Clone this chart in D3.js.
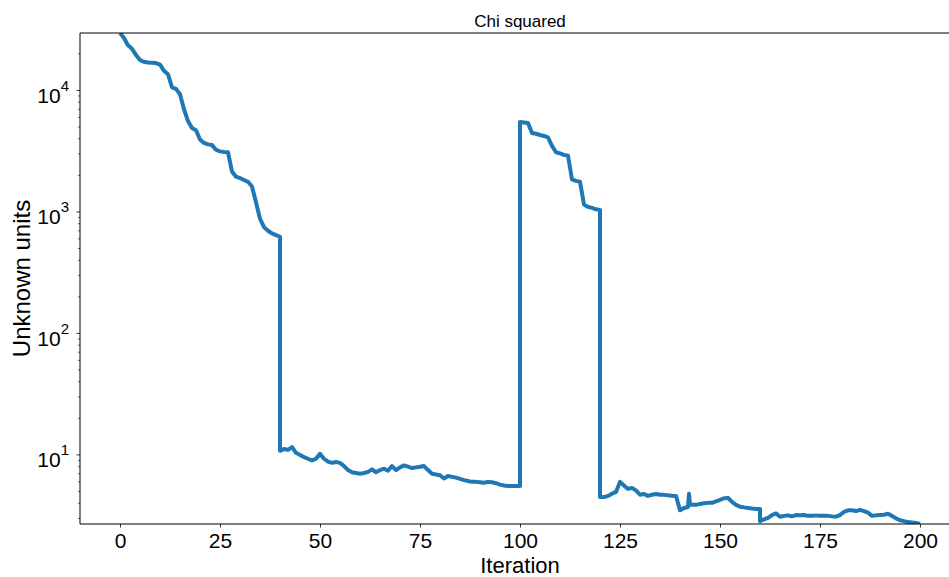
<!DOCTYPE html>
<html>
<head>
<meta charset="utf-8">
<script src="https://cdn.jsdelivr.net/npm/d3@7"></script>
<style>
  html, body { margin: 0; padding: 0; background: #fff; }
  svg { display: block; font-family: "Liberation Sans", Arial, sans-serif; }
</style>
</head>
<body>
<svg id="chart"></svg>
<script>
// Chi squared per iteration, log y axis
// data: [iteration, chi2] pairs, one array per phase

const descentA = [
  [0, 29700], [1, 27000], [2, 23500], [3, 22000], [4, 19600], [5, 17800],
  [6, 17200], [7, 17000], [8, 16900], [9, 16800], [10, 16300], [11, 14500],
  [12, 13600], [13, 10600], [14, 10300], [15, 9300], [16, 7000], [17, 5600],
  [18, 4900], [19, 4700], [20, 3950], [21, 3700], [22, 3600], [23, 3550],
  [24, 3250], [25, 3150], [26, 3120], [27, 3100], [28, 2150], [29, 1950],
  [30, 1900], [31, 1830], [32, 1770], [33, 1620], [34, 1200], [35, 880],
  [36, 750], [37, 700], [38, 665], [39, 645], [40, 625]
];

const plateauB = [
  [40, 10.8], [41, 11.2], [42, 11.0], [43, 11.6], [44, 10.4], [45, 10.0],
  [46, 9.6], [47, 9.3], [48, 9.0], [49, 9.3], [50, 10.2], [51, 9.3],
  [52, 8.8], [53, 8.6], [54, 8.75], [55, 8.6], [56, 8.1], [57, 7.5],
  [58, 7.2], [59, 7.1], [60, 7.0], [61, 7.1], [62, 7.25], [63, 7.6],
  [64, 7.2], [65, 7.5], [66, 7.7], [67, 7.4], [68, 8.1], [69, 7.5],
  [70, 7.9], [71, 8.2], [72, 8.0], [73, 7.8], [74, 7.9], [75, 8.0],
  [76, 8.1], [77, 7.5], [78, 7.0], [79, 6.9], [80, 6.8], [81, 6.4],
  [82, 6.7], [83, 6.6], [84, 6.5], [85, 6.35], [86, 6.2], [87, 6.1],
  [88, 6.0], [89, 6.0], [90, 5.95], [91, 5.9], [92, 6.0], [93, 5.95],
  [94, 5.85], [95, 5.7], [96, 5.6], [97, 5.56], [98, 5.56], [99, 5.56],
  [100, 5.56]
];

const descentC = [
  [100, 5500], [101, 5450], [102, 5400], [103, 4470], [104, 4400], [105, 4300],
  [106, 4220], [107, 4100], [108, 3500], [109, 3100], [110, 3030], [111, 2950],
  [112, 2900], [113, 1850], [114, 1800], [115, 1770], [116, 1150], [117, 1100],
  [118, 1080], [119, 1050], [120, 1040]
];

const plateauD = [
  [120, 4.5], [121, 4.5], [122, 4.6], [123, 4.8], [124, 4.96], [125, 6.0],
  [126, 5.6], [127, 5.25], [128, 5.35], [129, 5.1], [130, 4.7], [131, 4.77],
  [132, 4.6], [133, 4.7], [134, 4.77], [135, 4.7], [136, 4.69], [137, 4.65],
  [138, 4.62], [139, 4.6], [140, 3.5], [141, 3.66], [142, 3.73], [142.25, 4.8],
  [142.5, 3.88], [143, 3.88], [144, 3.88], [145, 3.95], [146, 4.0], [147, 4.03],
  [148, 4.03], [149, 4.15], [150, 4.26], [151, 4.4], [152, 4.43], [153, 4.1],
  [154, 3.88], [155, 3.75], [156, 3.7], [157, 3.66], [158, 3.62], [159, 3.59],
  [160, 3.59], [160, 2.85], [161, 2.95], [162, 3.03], [163, 3.2], [164, 3.3],
  [165, 3.1], [166, 3.15], [167, 3.18], [168, 3.12], [169, 3.2], [170, 3.18],
  [171, 3.2], [172, 3.15], [173, 3.15], [174, 3.18], [175, 3.15], [176, 3.15],
  [177, 3.15], [178, 3.12], [179, 3.1], [180, 3.2], [181, 3.4], [182, 3.5],
  [183, 3.5], [184, 3.45], [185, 3.53], [186, 3.45], [187, 3.35], [188, 3.15],
  [189, 3.18], [190, 3.2], [191, 3.22], [192, 3.28], [193, 3.15], [194, 3.0],
  [195, 2.9], [196, 2.85], [197, 2.8], [198, 2.78], [199, 2.75], [200, 2.7]
];

const xTicks = [0, 25, 50, 75, 100, 125, 150, 175, 200];
const yMajorExp = [1, 2, 3, 4];
const xDomain = [-10, 210];

const titleText = "Chi squared";
const xLabelText = "Iteration";
const yLabelText = "Unknown units";

function drawChart() {
    const width = 949;
    const height = 577;
    // axes box; right edge falls outside the window like the reference
    const margin = { left: 80, top: 33, right: 960, bottom: 524 };

    const svg = d3.select("#chart")
        .attr("width", width)
        .attr("height", height);

    const series = descentA.concat(plateauB, descentC, plateauD);

    const x = d3.scaleLinear()
        .domain(xDomain)
        .range([margin.left, margin.right]);

    const y = d3.scaleLog()
        .domain(d3.extent(series, d => d[1]))
        .range([margin.bottom, margin.top]);

    svg.append("clipPath")
        .attr("id", "plot-clip")
        .append("rect")
        .attr("x", margin.left)
        .attr("y", margin.top)
        .attr("width", margin.right - margin.left)
        .attr("height", margin.bottom - margin.top);

    // line
    const line = d3.line()
        .x(d => x(d[0]))
        .y(d => y(d[1]));

    svg.append("path")
        .datum(series)
        .attr("clip-path", "url(#plot-clip)")
        .attr("fill", "none")
        .attr("stroke", "#1f77b4")
        .attr("stroke-width", 4)
        .attr("stroke-linejoin", "round")
        .attr("stroke-linecap", "butt")
        .attr("d", line);

    // x axis
    const xAxis = d3.axisBottom(x)
        .tickValues(xTicks)
        .tickSize(3.5)
        .tickPadding(6)
        .tickFormat(d3.format("d"));

    const gx = svg.append("g")
        .attr("transform", `translate(0,${margin.bottom})`)
        .call(xAxis);
    gx.select(".domain").remove();
    gx.selectAll(".tick line").attr("stroke", "#000").attr("stroke-width", 0.8);
    gx.selectAll(".tick text")
        .attr("fill", "#000")
        .style("font-size", "21px")
        .style("font-family", "Liberation Sans, Arial, sans-serif");

    // y axis: major ticks with 10^n labels, minor ticks in between
    const [y0, y1] = y.domain();
    const minorVals = [];
    for (let e = Math.floor(Math.log10(y0)); e <= Math.ceil(Math.log10(y1)); e++) {
        for (let m = 2; m <= 9; m++) {
            const v = m * Math.pow(10, e);
            if (v >= y0 && v <= y1) minorVals.push(v);
        }
    }

    const gy = svg.append("g");
    gy.selectAll("line.minor")
        .data(minorVals)
        .enter()
        .append("line")
        .attr("class", "minor")
        .attr("x1", margin.left - 2)
        .attr("x2", margin.left)
        .attr("y1", d => y(d))
        .attr("y2", d => y(d))
        .attr("stroke", "#000")
        .attr("stroke-width", 0.6);

    const major = gy.selectAll("g.major")
        .data(yMajorExp)
        .enter()
        .append("g")
        .attr("class", "major")
        .attr("transform", d => `translate(0,${y(Math.pow(10, d))})`);

    major.append("line")
        .attr("x1", margin.left - 3.5)
        .attr("x2", margin.left)
        .attr("stroke", "#000")
        .attr("stroke-width", 0.8);

    const lbl = major.append("text")
        .attr("x", margin.left - 11)
        .attr("y", 12.5)
        .attr("text-anchor", "end")
        .attr("fill", "#000")
        .style("font-size", "21px");
    lbl.append("tspan").text("10");
    lbl.append("tspan")
        .attr("dy", -12)
        .style("font-size", "15px")
        .text(d => d);

    // spines
    svg.append("line")
        .attr("x1", margin.left).attr("x2", margin.left)
        .attr("y1", margin.top).attr("y2", margin.bottom)
        .attr("stroke", "#000").attr("stroke-width", 1);
    svg.append("line")
        .attr("x1", margin.left).attr("x2", margin.right)
        .attr("y1", margin.top).attr("y2", margin.top)
        .attr("stroke", "#000").attr("stroke-width", 1);
    svg.append("line")
        .attr("x1", margin.left).attr("x2", margin.right)
        .attr("y1", margin.bottom).attr("y2", margin.bottom)
        .attr("stroke", "#000").attr("stroke-width", 1);

    // labels
    const cx = (margin.left + margin.right) / 2;
    svg.append("text")
        .attr("x", cx)
        .attr("y", 27)
        .attr("text-anchor", "middle")
        .style("font-size", "17px")
        .text(titleText);

    svg.append("text")
        .attr("x", cx)
        .attr("y", 573)
        .attr("text-anchor", "middle")
        .style("font-size", "22px")
        .text(xLabelText);

    svg.append("text")
        .attr("transform", `translate(30,${(margin.top + margin.bottom) / 2}) rotate(-90)`)
        .attr("text-anchor", "middle")
        .style("font-size", "24px")
        .text(yLabelText);
}

drawChart();
</script>
</body>
</html>
